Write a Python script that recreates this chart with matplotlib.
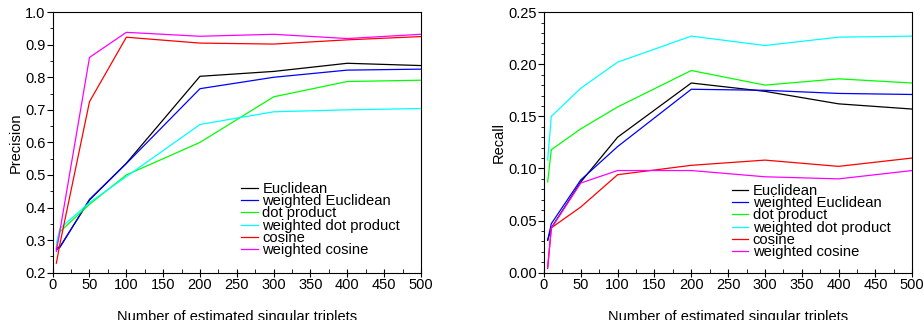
import numpy as np
import matplotlib.pyplot as plt
from matplotlib.ticker import MultipleLocator

plt.rcParams['font.family'] = ['Liberation Sans', 'DejaVu Sans']

x = [5, 10, 50, 100, 200, 300, 400, 500]
labels = ["Euclidean", "weighted Euclidean", "dot product",
          "weighted dot product", "cosine", "weighted cosine"]
colors = ["black", "blue", "#00ff00", "cyan", "red", "magenta"]

precision = [
    [0.275, 0.28, 0.423, 0.536, 0.803, 0.818, 0.843, 0.836],  # Euclidean
    [0.27, 0.278, 0.425, 0.535, 0.765, 0.800, 0.822, 0.825],  # weighted Euclidean
    [0.28, 0.326, 0.41, 0.50, 0.60, 0.74, 0.787, 0.791],      # dot product
    [0.29, 0.336, 0.415, 0.495, 0.655, 0.694, 0.700, 0.704],  # weighted dot product
    [0.229, 0.29, 0.725, 0.923, 0.905, 0.902, 0.915, 0.925],  # cosine
    [0.265, 0.33, 0.861, 0.938, 0.926, 0.932, 0.919, 0.932],  # weighted cosine
]

recall = [
    [0.031, 0.043, 0.087, 0.130, 0.182, 0.174, 0.162, 0.157],
    [0.031, 0.047, 0.089, 0.121, 0.176, 0.175, 0.172, 0.171],
    [0.087, 0.118, 0.138, 0.159, 0.194, 0.180, 0.186, 0.182],
    [0.108, 0.150, 0.177, 0.202, 0.227, 0.218, 0.226, 0.227],
    [0.004, 0.043, 0.063, 0.094, 0.103, 0.108, 0.102, 0.110],
    [0.005, 0.0426, 0.086, 0.098, 0.098, 0.092, 0.090, 0.098],
]

fig = plt.figure(figsize=(9.24, 3.2), dpi=100)
ax1 = fig.add_axes([0.057, 0.148, 0.3986, 0.814])
ax2 = fig.add_axes([0.5887, 0.148, 0.3986, 0.814])


def style(ax, ylim, ymaj, ymin, fmt, ylabel, legend_pos):
    ax.set_xlim(0, 500)
    ax.set_ylim(*ylim)
    ax.xaxis.set_major_locator(MultipleLocator(50))
    ax.xaxis.set_minor_locator(MultipleLocator(25))
    ax.yaxis.set_major_locator(MultipleLocator(ymaj))
    ax.yaxis.set_minor_locator(MultipleLocator(ymin))
    ax.yaxis.set_major_formatter(plt.FormatStrFormatter(fmt))
    ax.tick_params(axis='x', which='major', direction='inout', length=6, labelsize=10.5, pad=1)
    ax.tick_params(axis='x', which='minor', direction='in', length=3)
    ax.tick_params(axis='y', which='major', direction='out', length=4, labelsize=10.5, pad=1)
    ax.tick_params(axis='y', which='minor', direction='out', length=2.5)
    ax.tick_params(top=False, right=False, which='both')
    for s in ax.spines.values():
        s.set_linewidth(0.8)
    ax.set_xlabel("Number of estimated singular triplets", fontsize=10.5, labelpad=13)
    ax.set_ylabel(ylabel, fontsize=10.5, labelpad=2)
    ax.legend(loc='upper left', bbox_to_anchor=legend_pos, bbox_transform=fig.transFigure,
              frameon=False, fontsize=10.6, labelspacing=-0.12, handlelength=1.15,
              handletextpad=0.3, borderpad=0, borderaxespad=0)


for vals, lab, c in zip(precision, labels, colors):
    ax1.plot(x, vals, color=c, lw=0.9, label=lab)
for vals, lab, c in zip(recall, labels, colors):
    ax2.plot(x, vals, color=c, lw=0.9, label=lab)

style(ax1, (0.2, 1.0), 0.1, 0.05, '%.1f', "Precision", (241 / 924, 1 - 182 / 320))
style(ax2, (0.0, 0.25), 0.05, 0.01, '%.2f', "Recall", (731.5 / 924, 1 - 184 / 320))

fig.savefig("out.png", dpi=100)
